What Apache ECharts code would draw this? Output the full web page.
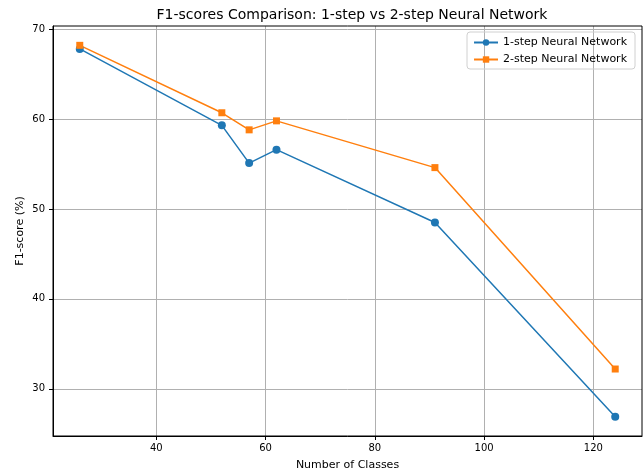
<!DOCTYPE html>
<html>
<head>
<meta charset="utf-8">
<script src="https://cdn.jsdelivr.net/npm/echarts@6/dist/echarts.min.js"></script>
<style>
 html, body { margin: 0; padding: 0; background: #fff; }
 #main { width: 644px; height: 472px; }
</style>
</head>
<body>
<div id="main"></div>
<script>
 // 数据
 var classes = [26, 52, 57, 62, 91, 124];
 var oneStep = [67.8, 59.3, 55.1, 56.6, 48.5, 26.9];
 var twoStep = [68.2, 60.7, 58.8, 59.8, 54.6, 32.2];
 var xTicks = [40, 60, 80, 100, 120];
 var yTicks = [30, 40, 50, 60, 70];

 var myChart = echarts.init(document.getElementById('main'));
 var font = 'DejaVu Sans';

 function pairs(xs, ys) {
     return xs.map(function (x, i) { return [x, ys[i]]; });
 }

 var option = {
     animation: false,
     backgroundColor: '#fff',
     title: {
         text: 'F1-scores Comparison: 1-step vs 2-step Neural Network',
         left: 347, top: 3, textAlign: 'center',
         textStyle: { fontFamily: font, fontSize: 14, fontWeight: 'normal', color: '#000' }
     },
     legend: {
         right: 9, top: 32,
         orient: 'vertical',
         itemGap: 6,
         itemWidth: 24, itemHeight: 8,
         borderColor: '#d0d0d0', borderWidth: 1, borderRadius: 3,
         padding: [5, 8, 4, 6],
         textStyle: { fontFamily: font, fontSize: 11, color: '#000' },
         data: ['1-step Neural Network', '2-step Neural Network']
     },
     grid: { left: 53, right: 2, top: 26, bottom: 36, outerBoundsMode: 'none' },
     xAxis: {
         type: 'value', min: 21.1, max: 128.9,
         name: 'Number of Classes', nameLocation: 'middle', nameGap: 24,
         nameTextStyle: { fontFamily: font, fontSize: 11, color: '#000' },
         axisLine: { show: true, onZero: false, lineStyle: { color: '#000', width: 1 } },
         axisTick: { show: true, inside: false, length: 4, customValues: xTicks, lineStyle: { color: '#000' } },
         axisLabel: { customValues: xTicks, fontFamily: font, fontSize: 10, color: '#000', margin: 7 },
         splitLine: { show: true, customValues: xTicks, lineStyle: { color: '#b0b0b0', width: 1 } }
     },
     yAxis: {
         type: 'value', min: 24.75, max: 70.35,
         name: 'F1-score (%)', nameLocation: 'middle', nameGap: 27, nameRotate: 90,
         nameMoveOverlap: false,
         nameTextStyle: { fontFamily: font, fontSize: 11, color: '#000' },
         axisLine: { show: true, onZero: false, lineStyle: { color: '#000', width: 1 } },
         axisTick: { show: true, inside: false, length: 4, customValues: yTicks, lineStyle: { color: '#000' } },
         axisLabel: { customValues: yTicks, fontFamily: font, fontSize: 10, color: '#000', margin: 8 },
         splitLine: { show: true, customValues: yTicks, lineStyle: { color: '#b0b0b0', width: 1 } }
     },
     series: [
         {
             name: '1-step Neural Network',
             type: 'line',
             data: pairs(classes, oneStep),
             symbol: 'circle', symbolSize: 8,
             itemStyle: { color: '#1f77b4' },
             lineStyle: { color: '#1f77b4', width: 1.5 }
         },
         {
             name: '2-step Neural Network',
             type: 'line',
             data: pairs(classes, twoStep),
             symbol: 'rect', symbolSize: 7,
             itemStyle: { color: '#ff7f0e' },
             lineStyle: { color: '#ff7f0e', width: 1.5 }
         }
     ],
     graphic: [
         // 上框和右框
         { type: 'rect', shape: { x: 53, y: 26, width: 589, height: 410 }, style: { fill: 'none', stroke: '#000', lineWidth: 1 }, silent: true, z: 10 }
     ]
 };
 myChart.setOption(option);
</script>
</body>
</html>
